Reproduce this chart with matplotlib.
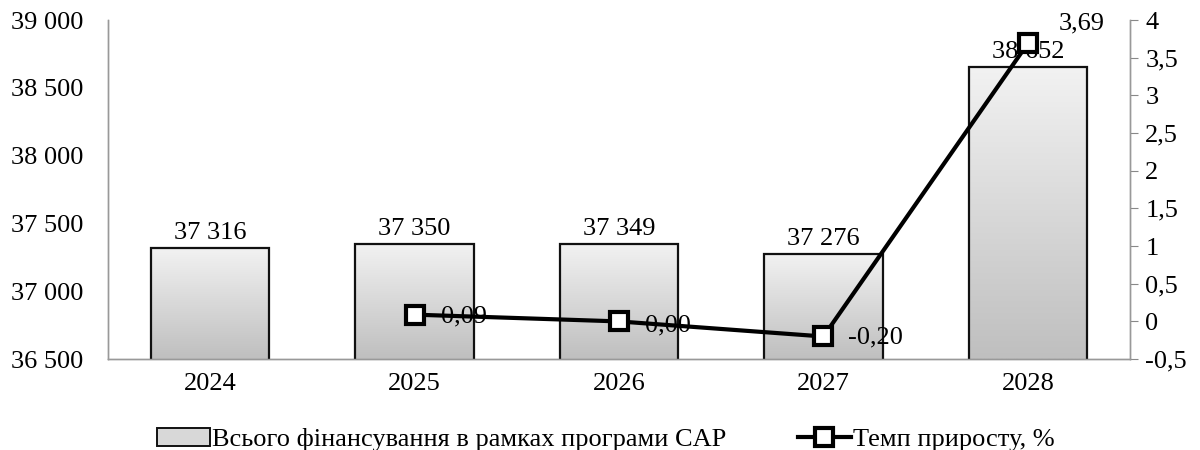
import matplotlib.pyplot as plt
from matplotlib.colors import LinearSegmentedColormap
from matplotlib.patches import Patch
import numpy as np

plt.rcParams['font.family'] = ['Liberation Serif', 'DejaVu Serif']

# data
years = ['2024', '2025', '2026', '2027', '2028']
funding = [37316, 37350, 37349, 37276, 38652]
growth_years = ['2025', '2026', '2027', '2028']
growth = [0.09, 0.00, -0.20, 3.69]

bar_label = 'Всього фінансування в рамках програми CAP'
line_label = 'Темп приросту, %'


def fmt_thousands(v):
    return '{:,.0f}'.format(v).replace(',', ' ')


def fmt_comma(v, digits=2):
    return '{:.{}f}'.format(v, digits).replace('.', ',')


FS = 19
fig = plt.figure(figsize=(12, 4.5), dpi=100)
ax = fig.add_axes([0.09, 0.202, 0.8517, 0.7535])
ax2 = ax.twinx()

x = np.arange(len(years))
bars = ax.bar(x, funding, width=0.58, facecolor='none', edgecolor='#111111',
              linewidth=1.6, zorder=3)

# vertical gradient inside each bar (light at top, darker at bottom)
cmap = LinearSegmentedColormap.from_list('bar', ['#f2f2f2', '#bfbfbf'])
grad = np.linspace(0, 1, 256).reshape(-1, 1)
for b in bars:
    x0, y0 = b.get_x(), b.get_y()
    w, h = b.get_width(), b.get_height()
    im = ax.imshow(grad, cmap=cmap, aspect='auto',
                   extent=[x0, x0 + w, 36500, y0 + h], origin='upper',
                   zorder=2)
    im.set_clip_path(b)
ax.set_xlim(-0.5, len(years) - 0.5)
ax.set_ylim(36500, 39000)

for xi, v in zip(x, funding):
    ax.annotate(fmt_thousands(v), (xi, v), xytext=(0, 3),
                textcoords='offset points', ha='center', va='bottom',
                fontsize=FS)

ax.set_xticks(x)
ax.set_xticklabels(years, fontsize=FS)
yt = np.arange(36500, 39001, 500)
ax.set_yticks(yt)
ax.set_yticklabels([fmt_thousands(v) for v in yt], fontsize=FS)
ax.tick_params(axis='x', length=0, pad=10)
ax.tick_params(axis='y', length=0, pad=18)

gx = [years.index(y) for y in growth_years]
ax2.plot(gx, growth, color='black', linewidth=3.0, marker='s',
         markersize=13, markerfacecolor='white', markeredgecolor='black',
         markeredgewidth=3.0, label=line_label, zorder=5)
ax2.set_ylim(-0.5, 4)
ticks2 = np.arange(-0.5, 4.01, 0.5)
ax2.set_yticks(ticks2)
ax2.set_yticklabels([('0' if abs(t) < 1e-9 else
                      (str(int(t)) if t == int(t) else fmt_comma(t, 1)))
                     for t in ticks2], fontsize=FS)
ax2.tick_params(axis='y', length=6, color='#888888', pad=5)

offsets = [(19, -1), (19, -3), (18, -1), (22, 14)]
for xi, v, off in zip(gx, growth, offsets):
    ax2.annotate(fmt_comma(v), (xi, v), xytext=off,
                 textcoords='offset points', ha='left', va='center',
                 fontsize=FS, zorder=6)

for a in (ax, ax2):
    a.spines['top'].set_visible(False)
    for s in ('left', 'right', 'bottom'):
        a.spines[s].set_color('#999999')
        a.spines[s].set_linewidth(1.0)
ax.set_zorder(1)
ax2.set_zorder(2)
ax2.patch.set_visible(False)

bar_handle = Patch(facecolor='#d8d8d8', edgecolor='#111111', linewidth=1.4,
                   label=bar_label)
h2, l2 = ax2.get_legend_handles_labels()
fig.legend([bar_handle] + h2, [bar_label] + l2, loc='lower center', ncol=2,
           bbox_to_anchor=(0.505, -0.055), frameon=False, fontsize=FS,
           columnspacing=2.7, handlelength=2.0, handletextpad=0.1)

fig.savefig('out.png', dpi=100)
